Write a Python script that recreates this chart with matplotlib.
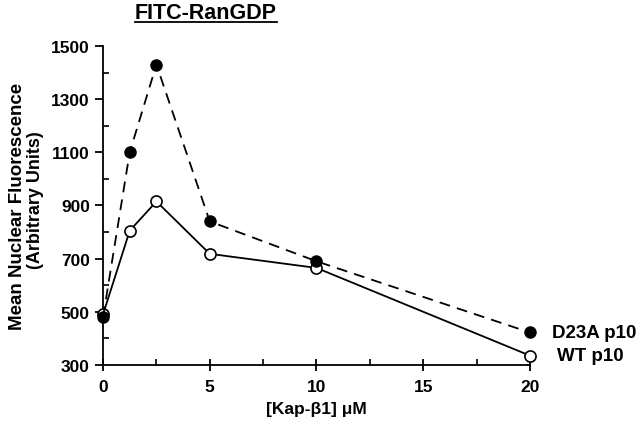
import matplotlib.pyplot as plt
from matplotlib.lines import Line2D
from matplotlib.ticker import MultipleLocator

plt.rcParams['font.family'] = ['Liberation Sans', 'DejaVu Sans']
plt.rcParams['font.weight'] = 'bold'

# [Kap-beta1] in uM
kap_conc = [0, 1.25, 2.5, 5, 10, 20]
d23a_p10 = [480, 1100, 1430, 840, 690, 422]
wt_p10 = [490, 805, 915, 718, 665, 335]

fig = plt.figure(figsize=(6.4, 4.31), dpi=100)
ax = fig.add_axes([0.161, 0.151, 0.667, 0.740])

ax.plot(kap_conc, wt_p10, color='black', lw=1.3, marker='o', ms=8,
        mfc='white', mec='black', mew=1.2, clip_on=False, zorder=3)
ax.plot(kap_conc, d23a_p10, color='black', lw=1.3, ls=(0, (6, 4)), marker='o', ms=8,
        mfc='black', mec='black', clip_on=False, zorder=4)

ax.set_xlim(0, 20)
ax.set_ylim(300, 1500)
ax.set_xticks([0, 5, 10, 15, 20])
ax.set_yticks([300, 500, 700, 900, 1100, 1300, 1500])
ax.xaxis.set_minor_locator(MultipleLocator(2.5))
ax.yaxis.set_minor_locator(MultipleLocator(100))
ax.tick_params(axis='x', which='major', direction='inout', length=8, width=1.3, labelsize=12.5, pad=6)
ax.tick_params(axis='y', which='major', direction='out', length=6, width=1.3, labelsize=12.5)
ax.tick_params(which='minor', direction='in', length=4, width=1.2)
for lab in ax.get_xticklabels() + ax.get_yticklabels():
    lab.set_fontweight('bold')

for s in ['top', 'right']:
    ax.spines[s].set_visible(False)
for s in ['left', 'bottom']:
    ax.spines[s].set_linewidth(1.3)

ax.set_xlabel('[Kap-\u03b21] \u03bcM', fontsize=12.5, fontweight='bold', labelpad=5)

# y label, two lines of slightly different size
fig.text(0.027, 0.522, 'Mean Nuclear Fluorescence', fontsize=13.5, fontweight='bold',
         rotation=90, ha='center', va='center')
fig.text(0.056, 0.536, '(Arbitrary Units)', fontsize=13, fontweight='bold',
         rotation=90, ha='center', va='center')

ax.text(21.03, d23a_p10[-1], 'D23A p10', fontsize=13.5, fontweight='bold',
        va='center', ha='left', clip_on=False)
ax.text(21.26, wt_p10[-1], 'WT p10', fontsize=13.5, fontweight='bold',
        va='center', ha='left', clip_on=False)

title = fig.text(0.322, 0.968, 'FITC-RanGDP', fontsize=15.5, fontweight='bold',
                 ha='center', va='center')
fig.canvas.draw()
bb = title.get_window_extent().transformed(fig.transFigure.inverted())
fig.add_artist(Line2D([bb.x0, bb.x1], [bb.y0 + 0.003, bb.y0 + 0.003],
                      color='black', lw=1.3, transform=fig.transFigure))

fig.savefig('out.png', dpi=100)
